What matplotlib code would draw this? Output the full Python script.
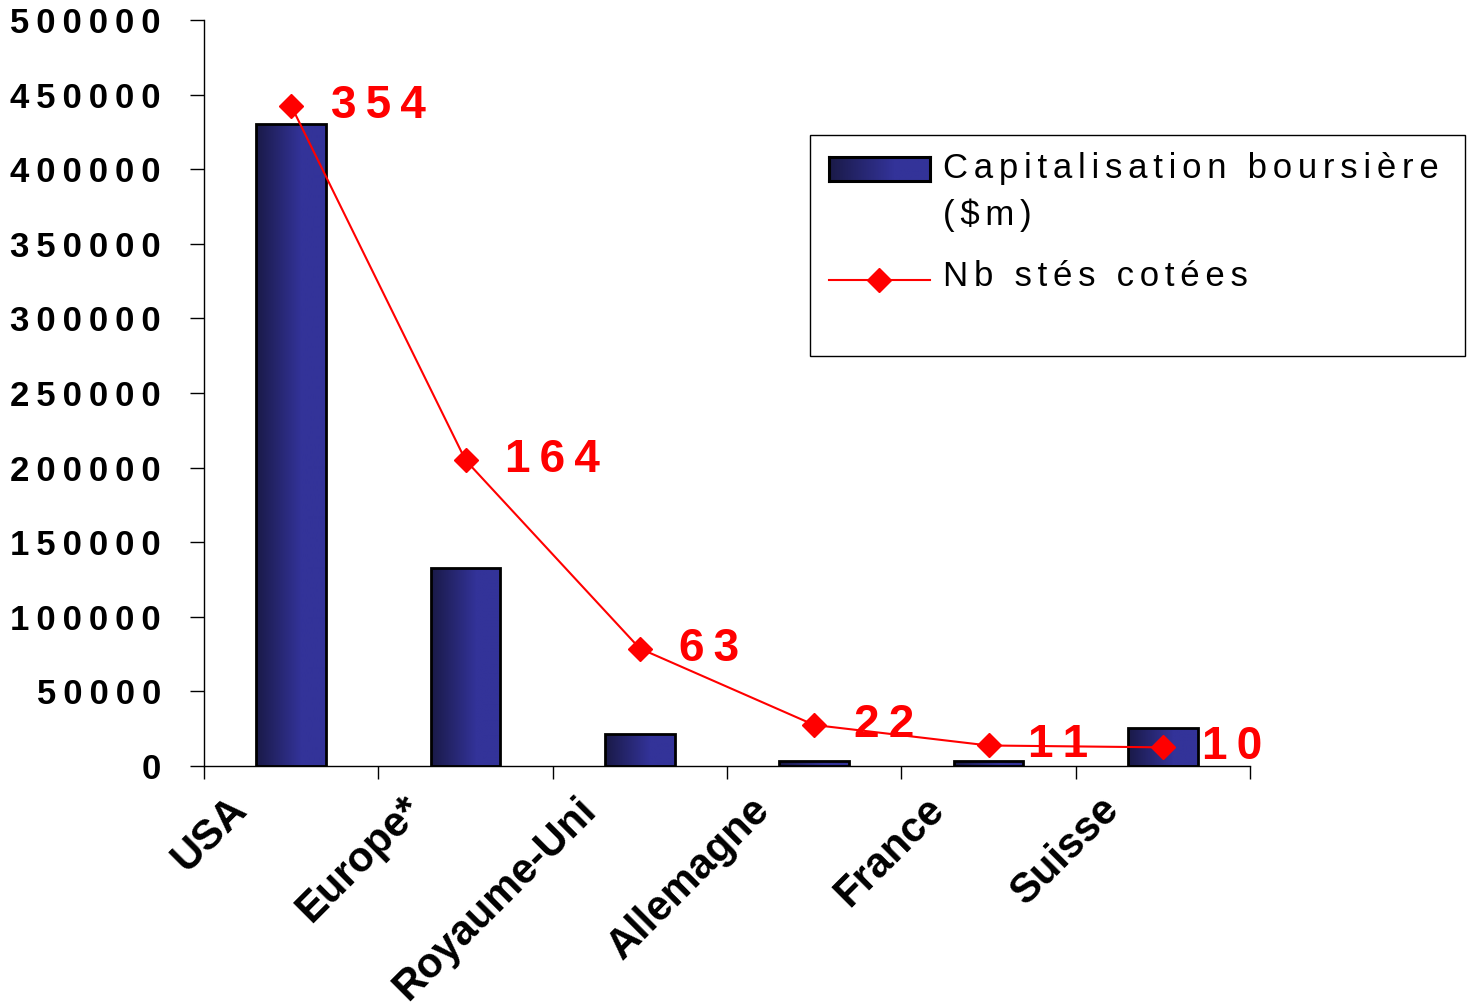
import matplotlib
matplotlib.use('Agg')
import matplotlib.pyplot as plt
from matplotlib.lines import Line2D
from matplotlib.patches import Rectangle
from matplotlib.ticker import FuncFormatter
import numpy as np

plt.rcParams['font.family'] = ['Liberation Sans', 'DejaVu Sans']

# pays et valeurs
pays = ['USA', 'Europe*', 'Royaume-Uni', 'Allemagne', 'France', 'Suisse']
capitalisation = [430000, 133000, 21500, 3500, 3500, 25500]   # $m
nb_societes = [354, 164, 63, 22, 11, 10]
legende = ['Capitalisation boursière\n($m)', 'Nb stés cotées']

ROUGE = '#ff0000'
THIN = '\u2009'
HAIR = '\u200a'


def espace(txt, sep=THIN):
    # écarte les lettres comme dans le graphique d'origine
    return '\n'.join(sep.join(ligne) for ligne in txt.split('\n'))


def degrade():
    # bleu foncé à gauche -> bleu plus clair à droite
    t = np.clip(np.linspace(0, 1, 64) / 0.65, 0, 1)
    c0 = np.array([0x1a, 0x1a, 0x48]) / 255
    c1 = np.array([0x33, 0x33, 0x99]) / 255
    return (c0[None, :] * (1 - t[:, None]) + c1[None, :] * t[:, None])[None, :, :]


W, H = 1467, 1008
fig = plt.figure(figsize=(W / 100, H / 100), dpi=100)
ax = fig.add_axes([204 / W, 1 - 766 / H, (1250 - 204) / W, (766 - 20) / H])

x = np.arange(len(pays))
largeur = 0.4
grad = degrade()
barres = ax.bar(x, capitalisation, width=largeur, facecolor='none',
                edgecolor='black', linewidth=2, zorder=3)
for b in barres:
    x0, y0 = b.get_x(), b.get_y()
    im = ax.imshow(grad, extent=(x0, x0 + b.get_width(), y0, y0 + b.get_height()),
                   aspect='auto', zorder=2, interpolation='bilinear')
    im.set_clip_path(b)

ax.set_xlim(-0.5, len(pays) - 0.5)
ax.set_ylim(0, 500000)
ax.set_yticks(np.arange(0, 500001, 50000))
ax.yaxis.set_major_formatter(FuncFormatter(lambda v, p: espace('%d' % v)))
ax.tick_params(axis='y', length=10, width=1, pad=21, labelsize=25)
for lab in ax.get_yticklabels():
    lab.set_fontweight('bold')

ax.set_xticks(np.arange(-0.5, len(pays), 1.0))
ax.set_xticklabels([])
ax.tick_params(axis='x', length=9, width=1)

for s in ['top', 'right']:
    ax.spines[s].set_visible(False)
for s in ['left', 'bottom']:
    ax.spines[s].set_linewidth(1)

for i, nom in enumerate(pays):
    ax.annotate(nom, (i, 0), xycoords=('data', 'axes fraction'),
                xytext=(-36, -27), textcoords='offset points',
                ha='right', va='center', rotation=45, rotation_mode='anchor',
                fontsize=30, fontweight='bold')

# nombre de sociétés cotées sur un second axe caché (0-400)
ax2 = ax.twinx()
ax2.set_ylim(0, 400)
ax2.axis('off')
ax2.plot(x, nb_societes, color=ROUGE, linewidth=1.5, marker='D',
         markersize=12, zorder=4)
for i, v in enumerate(nb_societes):
    ax2.annotate(espace(str(v)), (i, v), xytext=(28.5, 0),
                 textcoords='offset points', ha='left', va='center',
                 color=ROUGE, fontsize=33, fontweight='bold')

# légende dessinée à la main, cadre façon Excel
fig.add_artist(Rectangle((810 / W, 1 - 356 / H), 655 / W, 221 / H,
                         transform=fig.transFigure, facecolor='white',
                         edgecolor='black', linewidth=1, zorder=5))
hax = fig.add_axes([829 / W, 1 - 181 / H, 101 / W, 24 / H], zorder=6)
hax.imshow(grad, aspect='auto', extent=(0, 1, 0, 1))
hax.set_xticks([])
hax.set_yticks([])
for s in hax.spines.values():
    s.set_linewidth(2.2)
fig.add_artist(Line2D([829 / W, 930 / W], [1 - 280 / H] * 2, transform=fig.transFigure,
                      color=ROUGE, linewidth=1.5, zorder=6))
fig.add_artist(Line2D([879 / W], [1 - 280 / H], transform=fig.transFigure, color=ROUGE,
                      marker='D', markersize=12, zorder=7))
fig.text(943 / W, 1 - 152 / H, espace(legende[0], HAIR * 2), ha='left', va='top',
         fontsize=25, linespacing=1.5, zorder=7)
fig.text(943 / W, 1 - 277 / H, espace(legende[1], HAIR * 2), ha='left', va='center',
         fontsize=25, zorder=7)

fig.savefig('out.png', dpi=100)
